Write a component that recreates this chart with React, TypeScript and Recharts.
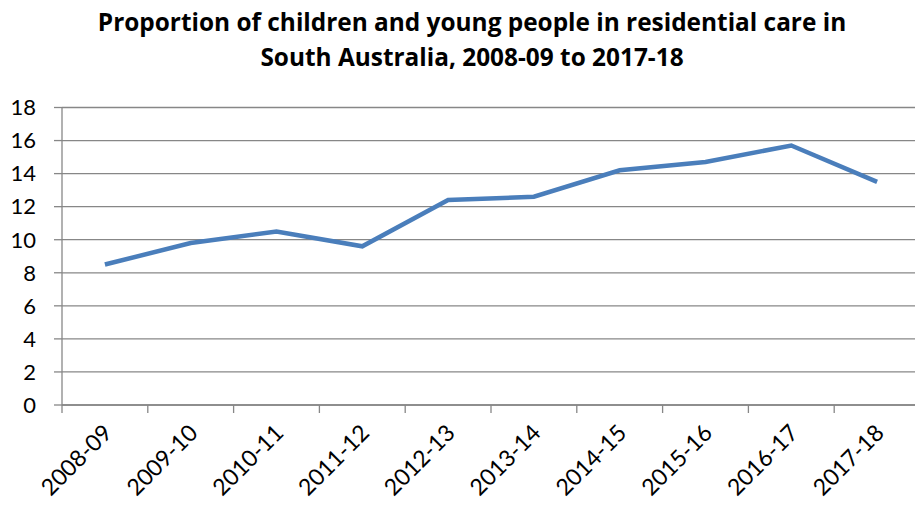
import React from 'react';
import { LineChart, Line, XAxis, YAxis, CartesianGrid } from 'recharts';

const years = ['2008-09', '2009-10', '2010-11', '2011-12', '2012-13', '2013-14', '2014-15', '2015-16', '2016-17', '2017-18'];
const values = [8.5, 9.8, 10.5, 9.6, 12.4, 12.6, 14.2, 14.7, 15.7, 13.5];
const yTicks = [0, 2, 4, 6, 8, 10, 12, 14, 16, 18];
const boundaryTicks = [0, 1, 2, 3, 4, 5, 6, 7, 8, 9, 10];
const titleLines = ['Proportion of children and young people in residential care in', 'South Australia, 2008-09 to 2017-18'];

const data = years.map((year, i) => ({ year, pos: i + 0.5, value: values[i] }));

const FONT = 'Lato, "Open Sans", sans-serif';
const TITLE_FONT = '"Open Sans", Lato, sans-serif';
const GRID = '#878787';

const RotTick = (props: any) => {
  const { x, y, payload } = props;
  const ax = x + 2;
  const ay = y + 7;
  return (
    <text
      x={ax}
      y={ay}
      transform={`rotate(-45, ${ax}, ${ay})`}
      textAnchor="end"
      dominantBaseline="central"
      fontFamily={FONT}
      fontSize={23}
      fill="#000"
    >
      {payload.value}
    </text>
  );
};

export default function App() {
  return (
    <div style={{ position: 'absolute', left: 0, top: 0, width: 915, height: 505, overflow: 'hidden', background: '#fff' }}>
      <div
        style={{
          position: 'absolute',
          left: 0,
          top: 4,
          width: 944,
          textAlign: 'center',
          fontFamily: TITLE_FONT,
          fontWeight: 700,
          fontSize: 24.4,
          lineHeight: '35px',
          color: '#000',
        }}
      >
        {titleLines.map((t) => (
          <div key={t}>{t}</div>
        ))}
      </div>
      <div style={{ position: 'absolute', left: 0, top: 0 }}>
        <LineChart width={930} height={505} data={data} margin={{ top: 107.5, right: 10, bottom: 0, left: 0 }}>
          <CartesianGrid vertical={false} stroke={GRID} strokeWidth={1.3} />
          <XAxis
            dataKey="pos"
            type="number"
            domain={[0, 10]}
            ticks={boundaryTicks}
            tickFormatter={() => ''}
            tickSize={8}
            height={8}
            stroke={GRID}
            strokeWidth={1.3}
            allowDataOverflow
          />
          <XAxis
            xAxisId="cat"
            dataKey="year"
            type="category"
            padding={{ left: 43, right: 43 }}
            axisLine={false}
            tickLine={false}
            tick={<RotTick />}
            interval={0}
            height={92}
          />
          <YAxis
            domain={[0, 18]}
            ticks={yTicks}
            interval={0}
            width={62}
            tickSize={8}
            tickMargin={18}
            stroke={GRID}
            strokeWidth={1.3}
            tick={{ fill: '#000', fontSize: 22, fontFamily: FONT }}
          />
          <Line
            type="linear"
            dataKey="value"
            stroke="#4A7EBB"
            strokeWidth={4.5}
            dot={false}
            isAnimationActive={false}
          />
        </LineChart>
      </div>
    </div>
  );
}
